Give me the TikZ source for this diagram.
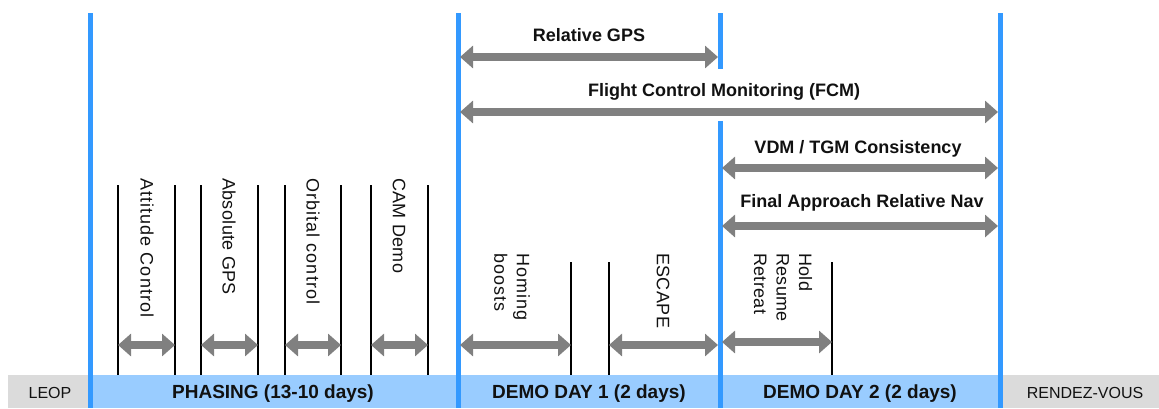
\documentclass[tikz,border=0pt]{standalone}
\usepackage{fontspec}
\setmainfont{Liberation Sans}
\usetikzlibrary{arrows.meta}
\definecolor{vline}{HTML}{3399FF}
\definecolor{bandblue}{HTML}{99CCFF}
\definecolor{bandgray}{HTML}{DBDBDB}
\definecolor{arrgray}{HTML}{808080}
\definecolor{txt}{HTML}{111111}
\begin{document}
\begin{tikzpicture}[x=1pt,y=-1pt,
  phaseline/.style={draw=vline, line width=5pt},
  tickline/.style={draw=black, line width=1.1pt},
  dbl/.style={draw=arrgray, line width=8pt,
    {Triangle[width=22pt,length=13pt]}-{Triangle[width=22pt,length=13pt]}},
  toplabel/.style={font=\fontsize{18}{22}\selectfont\bfseries, inner sep=0pt, anchor=base, text=txt},
  vlabel/.style={font=\fontsize{18}{22.5}\selectfont\addfontfeatures{LetterSpace=2}, rotate=-90, anchor=west, align=left, inner sep=0pt, text=txt},
  vlabelw/.style={vlabel, font=\fontsize{18}{22.5}\selectfont\addfontfeatures{LetterSpace=6}},
  bandlabel/.style={font=\fontsize{19}{22}\selectfont\bfseries, inner sep=0pt, anchor=base, text=txt},
  sidelabel/.style={font=\fontsize{16}{20}\selectfont, inner sep=0pt, anchor=base, text=txt}]
\useasboundingbox (0,0) rectangle (1159,408);

% bottom bands
\fill[bandgray] (8,375) rectangle (90,408);
\fill[bandblue] (90,375) rectangle (1000,408);
\fill[bandgray] (1000,375) rectangle (1159,408);

% main blue vertical lines
\coordinate (v1t) at (90,13);   \coordinate (v1b) at (90,408);
\coordinate (v2t) at (458,13);  \coordinate (v2b) at (458,408);
\coordinate (v3t) at (720,13);  \coordinate (v3m) at (720,69);
\coordinate (v3u) at (720,121); \coordinate (v3b) at (720,408);
\coordinate (v4t) at (1000,13); \coordinate (v4b) at (1000,408);
\draw[phaseline] (v1t) -- (v1b);
\draw[phaseline] (v2t) -- (v2b);
\draw[phaseline] (v3t) -- (v3m);
\draw[phaseline] (v3u) -- (v3b);
\draw[phaseline] (v4t) -- (v4b);

% thin black ticks (phasing)
\foreach \x [count=\i] in {118,175,201,258,285,341,371,428}{
  \coordinate (pt\i) at (\x,185);
  \coordinate (pb\i) at (\x,375);
  \draw[tickline] (pt\i) -- (pb\i);
}
% thin black ticks (demo days)
\foreach \x [count=\i] in {571,609,832}{
  \coordinate (dt\i) at (\x,262);
  \coordinate (db\i) at (\x,375);
  \draw[tickline] (dt\i) -- (db\i);
}

% phasing arrows
\foreach \a/\b [count=\i] in {118/175,201/258,285/341,371/428}{
  \coordinate (pa\i) at (\a,345);
  \coordinate (pz\i) at (\b,345);
  \draw[dbl] (pa\i) -- (pz\i);
}
% demo day arrows
\coordinate (h1) at (460,345); \coordinate (h2) at (571,345);
\coordinate (e1) at (609,345); \coordinate (e2) at (718,345);
\coordinate (r1) at (722,342); \coordinate (r2) at (832,342);
\draw[dbl] (h1) -- (h2);
\draw[dbl] (e1) -- (e2);
\draw[dbl] (r1) -- (r2);

% top arrows
\coordinate (g1) at (460,57);  \coordinate (g2) at (718,57);
\coordinate (f1) at (460,112); \coordinate (f2) at (998,112);
\coordinate (c1) at (722,168); \coordinate (c2) at (998,168);
\coordinate (n1) at (722,226); \coordinate (n2) at (998,226);
\draw[dbl] (g1) -- (g2);
\draw[dbl] (f1) -- (f2);
\draw[dbl] (c1) -- (c2);
\draw[dbl] (n1) -- (n2);

% top labels
\node[toplabel] (relgps) at (589,41) {Relative GPS};
\node[toplabel] (fcm) at (724,96) {Flight Control Monitoring (FCM)};
\node[toplabel] (vdm) at (858,153) {VDM / TGM Consistency};
\node[toplabel] (fin) at (862,207) {Final Approach Relative Nav};

% rotated labels
\node[vlabelw] (att) at (147,178) {Attitude Control};
\node[vlabel] (abs) at (229,178) {Absolute GPS};
\node[vlabelw] (orb) at (313,178) {Orbital control};
\node[vlabel] (cam) at (399,178) {CAM Demo};
\node[vlabelw] (hom) at (512,253) {Homing\\boosts};
\node[vlabel] (esc) at (663,253) {ESCAPE};
\node[vlabel] (hrr) at (783,253) {Hold\\Resume\\Retreat};

% band labels
\node[sidelabel] (leop) at (50,398) {LEOP};
\node[bandlabel] (phas) at (273,398) {PHASING (13-10 days)};
\node[bandlabel] (dd1) at (589,398) {DEMO DAY 1 (2 days)};
\node[bandlabel] (dd2) at (860,398) {DEMO DAY 2 (2 days)};
\node[sidelabel] (rdv) at (1085,398) {RENDEZ-VOUS};
\end{tikzpicture}
\end{document}
